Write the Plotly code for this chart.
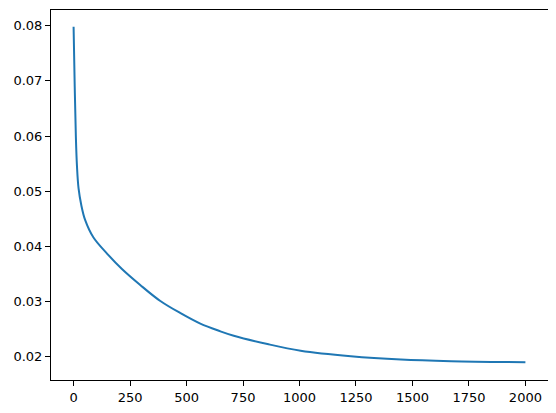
import plotly.graph_objects as go

epochs = [0, 5, 10, 15, 22, 34, 51, 88, 148, 214, 295, 384, 473, 561, 650, 709, 858, 1005,
          1227, 1449, 1671, 2000]
loss = [0.0798, 0.0690, 0.0600, 0.0545, 0.0505, 0.0475, 0.0448, 0.0416, 0.0387, 0.0359, 0.0330,
        0.0301, 0.0279, 0.0260, 0.0246, 0.0238, 0.0223, 0.0211, 0.0201, 0.0195, 0.0192, 0.0190]
x_ticks = [0, 250, 500, 750, 1000, 1250, 1500, 1750, 2000]
y_ticks = [0.02, 0.03, 0.04, 0.05, 0.06, 0.07, 0.08]

fig = go.Figure()
fig.add_trace(go.Scatter(x=epochs, y=loss, mode="lines",
                         line=dict(color="#1f77b4", width=2, shape="spline", smoothing=1.0)))

axis_common = dict(showline=True, linecolor="black", linewidth=1, mirror=True,
                   ticks="outside", ticklen=5, tickcolor="black", showgrid=False,
                   zeroline=False, automargin=False,
                   tickfont=dict(family="DejaVu Sans", size=13, color="black"))
# the page body adds an 8px offset, so the figure is 548x405 placed at (8, 8)
fig.update_layout(
    width=548, height=405,
    margin=dict(l=43, r=8, t=2, b=33),
    plot_bgcolor="white", paper_bgcolor="white",
    showlegend=False,
    xaxis=dict(range=[-100, 2100], tickvals=x_ticks, ticktext=[str(v) for v in x_ticks], **axis_common),
    yaxis=dict(range=[0.01578, 0.08285], tickvals=y_ticks, ticktext=[f"{v:.2f}" for v in y_ticks], **axis_common),
)
fig.write_html("out.html")
